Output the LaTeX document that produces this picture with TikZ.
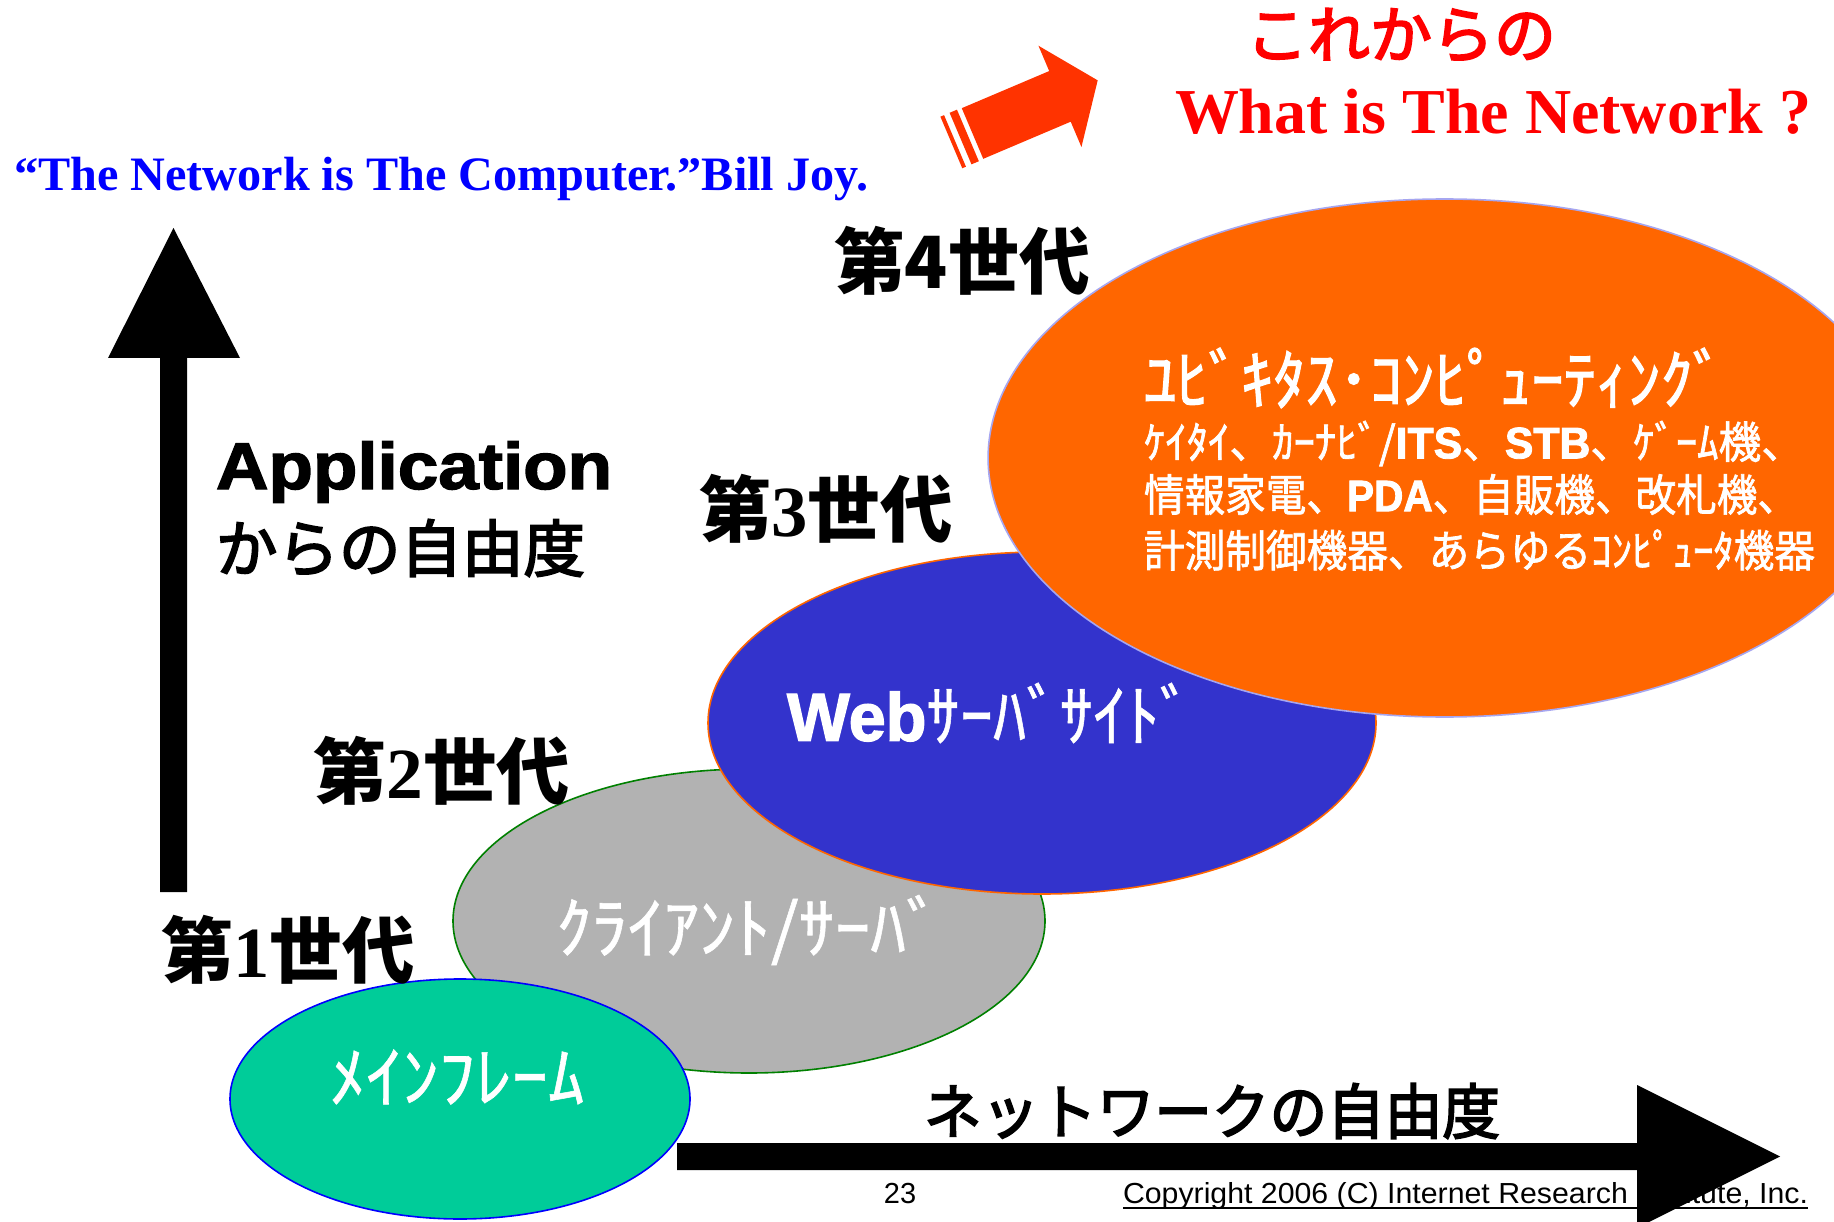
\documentclass[tikz,border=0pt]{standalone}
\usepackage{fontspec}
\usepackage{graphicx}
\usetikzlibrary{shapes.geometric}
\newfontfamily\jp{Noto Sans CJK JP}
\newfontfamily\jpm{Noto Sans CJK JP}[FakeBold=1.6]
\newfontfamily\jph{Noto Sans CJK JP}[FakeBold=3]
\newfontfamily\jpw{Noto Sans CJK JP}[FakeBold=0.8]
\newfontfamily\tms{Liberation Serif}
\newfontfamily\ars{Liberation Sans}
\newfontfamily\heavy{Liberation Sans Bold}[FakeBold=2]
\newcommand\fsz[1]{\fontsize{#1pt}{#1pt}\selectfont}
\definecolor{cOrange}{HTML}{FF6600}
\definecolor{cArrow}{HTML}{FF3300}
\definecolor{cBlue}{HTML}{3333CC}
\definecolor{cGrey}{HTML}{B2B2B2}
\definecolor{cGreen}{HTML}{00CC99}
\definecolor{cGreenLine}{HTML}{008000}
\definecolor{cLav}{HTML}{A6A6F0}
\definecolor{cQuote}{HTML}{0000FF}
\tikzset{
  blob/.style={ellipse, inner sep=0pt, line width=1.6pt},
  wtext/.style={text=white, inner sep=0pt},
}
\begin{document}
\begin{tikzpicture}[x=1pt,y=-1pt, every node/.style={inner sep=0pt, outer sep=0pt}]
\useasboundingbox (0,0) rectangle (1834,1222);
\fill[white] (0,0) rectangle (1834,1222);
\begin{scope}
\clip (0,0) rectangle (1834,1222);

% vertical axis arrow
\fill[black] (160,892) -- (160,358) -- (108,358) -- (173.5,228) -- (240,358) -- (187,358) -- (187,892) -- cycle;

% copyright and page number (under the arrow head)
\node[anchor=base west] (copy) at (1123,1203) {\resizebox{685pt}{\height}{\fsz{29}\ars Copyright 2006 (C) Internet Research Institute, Inc.}};
\draw[line width=2pt] ([yshift=-5pt]copy.base west) -- ([yshift=-5pt]copy.base east);
\node[anchor=base] (pg) at (900,1203) {\fsz{29}\ars 23};

% horizontal axis arrow
\fill[black] (677,1143) -- (1637,1143) -- (1637,1085) -- (1780,1156.5) -- (1637,1228) -- (1637,1170) -- (677,1170) -- cycle;

% ellipses
\node[blob, fill=cGrey, draw=cGreenLine, minimum width=592pt, minimum height=304pt] (e2) at (749,921) {};
\node[blob, fill=cGreen, draw=blue, minimum width=460pt, minimum height=240pt] (e1) at (460,1099) {};
\node[blob, fill=cBlue, draw=cOrange, minimum width=668pt, minimum height=342pt] (e3) at (1042,723) {};
\node[blob, fill=cOrange, draw=cLav, minimum width=913pt, minimum height=518pt] (e4) at (1444.6,458) {};

% ellipse texts
\node[wtext] (t1) at (457,1077) {\resizebox{255pt}{\height}{\fsz{68}\jpw ﾒｲﾝﾌﾚｰﾑ}};
\node[wtext] (t2) at (749,930) {\resizebox{386pt}{\height}{\fsz{68}\jpw ｸﾗｲｱﾝﾄ/ｻｰﾊﾞ}};
\node[wtext] (t3) at (990,713) {\resizebox{406pt}{\height}{\fsz{68}{\heavy Web}\jpw ｻｰﾊﾞｻｲﾄﾞ}};
\node[wtext, anchor=west] (t4a) at (1144,378) {\resizebox{581pt}{\height}{\fsz{66}\jpm ﾕﾋﾞｷﾀｽ･ｺﾝﾋﾟｭｰﾃｨﾝｸﾞ}};
\node[wtext, anchor=west] (t4b) at (1144,443.5) {\resizebox{660pt}{\height}{\fsz{44}\jpm ｹｲﾀｲ、ｶｰﾅﾋﾞ/{\heavy ITS}、{\heavy STB}、ｹﾞｰﾑ機、}};
\node[wtext, anchor=west] (t4c) at (1144,494.5) {\resizebox{654pt}{\height}{\fsz{44}\jpm 情報家電、{\heavy PDA}、自販機、改札機、}};
\node[wtext, anchor=west] (t4d) at (1144,550) {\resizebox{671pt}{\height}{\fsz{44}\jpm 計測制御機器、あらゆるｺﾝﾋﾟｭｰﾀ機器}};

% generation labels
\node[anchor=west] (g1) at (161,950) {\resizebox{254pt}{\height}{\fsz{72}\jp\bfseries 第{\tms\bfseries 1}世代}};
\node[anchor=west] (g2) at (313,771) {\resizebox{257pt}{\height}{\fsz{72}\jp\bfseries 第{\tms\bfseries 2}世代}};
\node[anchor=west] (g3) at (699,509) {\resizebox{254pt}{\height}{\fsz{72}\jp\bfseries 第{\tms\bfseries 3}世代}};
\node[anchor=west] (g4) at (834,261) {\resizebox{256pt}{\height}{\fsz{72}\jp\bfseries 第4世代}};

% axis labels
\node[anchor=base west] (app) at (216,489) {\resizebox{396pt}{\height}{\fsz{66}\heavy Application}};
\node[anchor=west] (appjp) at (216,548) {\resizebox{369pt}{\height}{\fsz{62}\jph からの自由度}};
\node[anchor=west] (netjp) at (924,1111) {\resizebox{576pt}{\height}{\fsz{60}\jph ネットワークの自由度}};

% quote
\node[anchor=base west, text=cQuote] (quote) at (14,191) {\resizebox{854pt}{\height}{\fsz{48}\tms\bfseries “The Network is The Computer.”Bill Joy.}};

% top right
\node[text=red] (kore) at (1401,35) {\fsz{62}\jph これからの};
\node[anchor=base west, text=red] (what) at (1175,134) {\resizebox{636pt}{\height}{\fsz{64}\tms\bfseries What is The Network ?}};

% orange block arrow
\begin{scope}[shift={(972.5,133.5)}, rotate=23]
\fill[cArrow] (0,-27.5) -- (95,-27.5) -- (95,-55) -- (136,0) -- (95,55) -- (95,27.5) -- (0,27.5) -- cycle;
\fill[cArrow] (-13,-28) rectangle (-5,28);
\fill[cArrow] (-23,-28) rectangle (-19,28);
\end{scope}

\end{scope}
\end{tikzpicture}
\end{document}
